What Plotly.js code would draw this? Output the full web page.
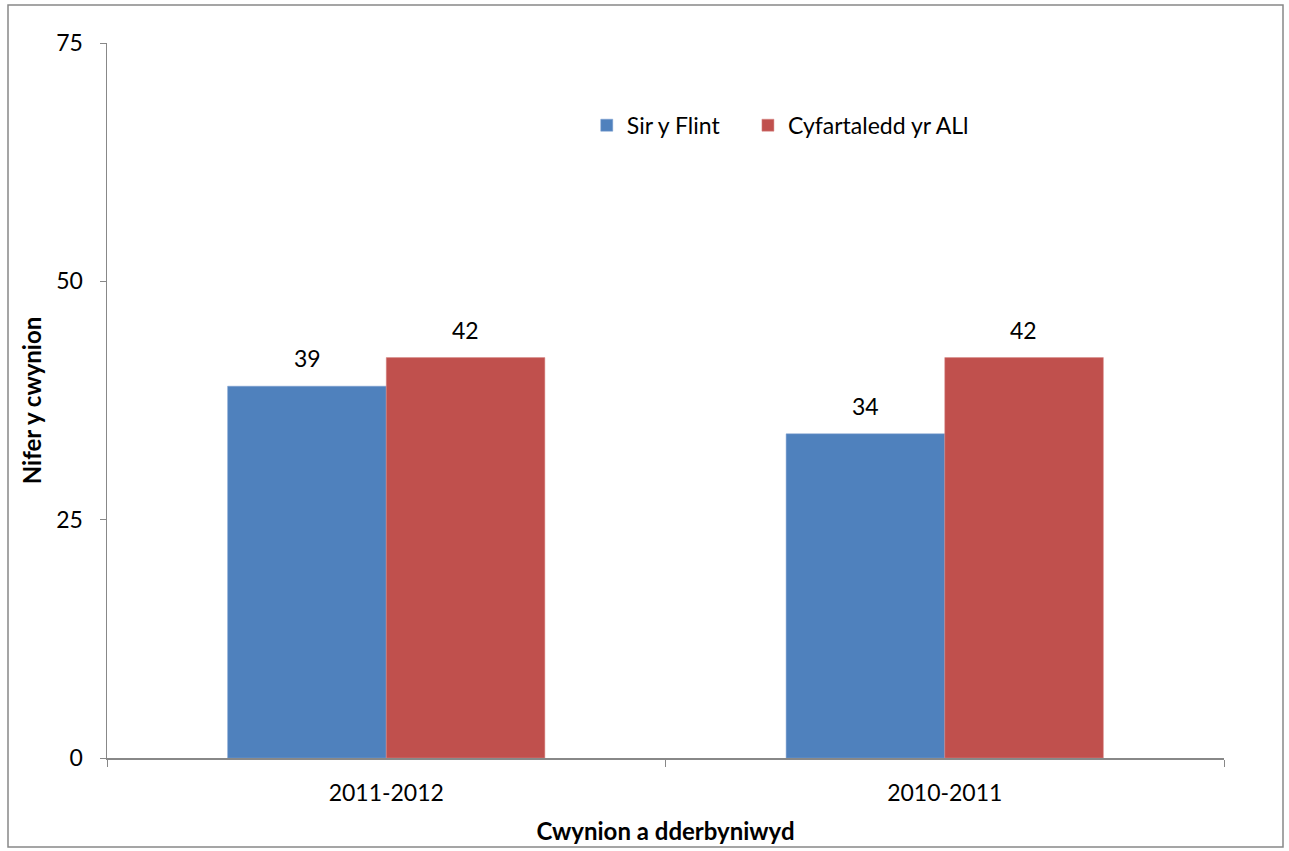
<!DOCTYPE html>
<html>
<head>
<meta charset="utf-8">
<script src="https://cdn.plot.ly/plotly-3.0.1.min.js"></script>
<style>html,body{margin:0;padding:0;background:#fff;} #chart{width:1289px;height:851px;}</style>
</head>
<body>
<div id="chart"></div>
<script>
var categories = ["2011-2012", "2010-2011"];
var seriesNames = ["Sir y Flint", "Cyfartaledd yr ALl"];
var flintValues = [39, 34];
var averageValues = [42, 42];
var yTickValues = [0, 25, 50, 75];

var FONT = "Lato, 'Open Sans', sans-serif";
var series = [flintValues, averageValues];
var colors = ["#4F81BD", "#C0504D"];
var edges = ["#7a9fd0", "#d88a88"];
var legendIds = ["legend", "legend2"];

var traces = series.map(function (vals, i) {
  return {
    type: "bar", name: seriesNames[i], x: categories, y: vals,
    marker: {color: colors[i], line: {color: edges[i], width: 0.5}},
    legend: legendIds[i],
    hoverinfo: "x+y"
  };
});

// data labels placed above each bar (offset left/right for the grouped bars)
var annotations = [];
series.forEach(function (vals, i) {
  vals.forEach(function (v, j) {
    annotations.push({
      x: categories[j], y: v, xref: "x", yref: "y",
      text: String(v), showarrow: false,
      xanchor: "center", yanchor: "bottom",
      xshift: i === 0 ? -79 : 79, yshift: 12,
      font: {family: FONT, size: 23, color: "#000"}
    });
  });
});

function legendCfg(x) {
  return {
    orientation: "h", x: x, y: 0.885, xanchor: "left", yanchor: "middle",
    font: {family: FONT, size: 23, color: "#000"},
    itemwidth: 30, bgcolor: "rgba(0,0,0,0)"
  };
}

var layout = {
  width: 1289, height: 851,
  margin: {l: 107, r: 65, t: 43, b: 93},
  paper_bgcolor: "#fff", plot_bgcolor: "#fff",
  font: {family: FONT, size: 23, color: "#000"},
  barmode: "group", bargap: 0.432, bargroupgap: 0,
  showlegend: true,
  legend: legendCfg(0.4295),
  legend2: legendCfg(0.5738),
  xaxis: {
    type: "category", tickson: "boundaries",
    ticks: "outside", ticklen: 7, tickcolor: "#888", tickwidth: 1,
    showline: true, linecolor: "#888", linewidth: 1.5,
    showgrid: false, zeroline: false, ticklabelstandoff: 14,
    tickfont: {family: FONT, size: 23, color: "#000"},
    title: {text: "<b>Cwynion a dderbyniwyd</b>", font: {family: FONT, size: 24, color: "#000"}, standoff: 18}
  },
  yaxis: {
    range: [0, 75], tickvals: yTickValues, ticktext: yTickValues.map(String),
    ticks: "outside", ticklen: 6, tickcolor: "#888", tickwidth: 1,
    showline: true, linecolor: "#888", linewidth: 1.5,
    showgrid: false, zeroline: false, ticklabelstandoff: 12,
    tickfont: {family: FONT, size: 23, color: "#000"},
    title: {text: "<b>Nifer y cwynion</b>", font: {family: FONT, size: 24, color: "#000"}, standoff: 8}
  },
  annotations: annotations,
  shapes: [
    {type: "rect", xref: "paper", yref: "paper",
     x0: (8 - 107) / 1117, x1: (1283 - 107) / 1117,
     y0: (758 - 847) / 715, y1: (758 - 5) / 715,
     line: {color: "#888", width: 1.5}, fillcolor: "rgba(0,0,0,0)", layer: "below"}
  ]
};

Plotly.newPlot("chart", traces, layout, {displayModeBar: false, staticPlot: true});
</script>
</body>
</html>
